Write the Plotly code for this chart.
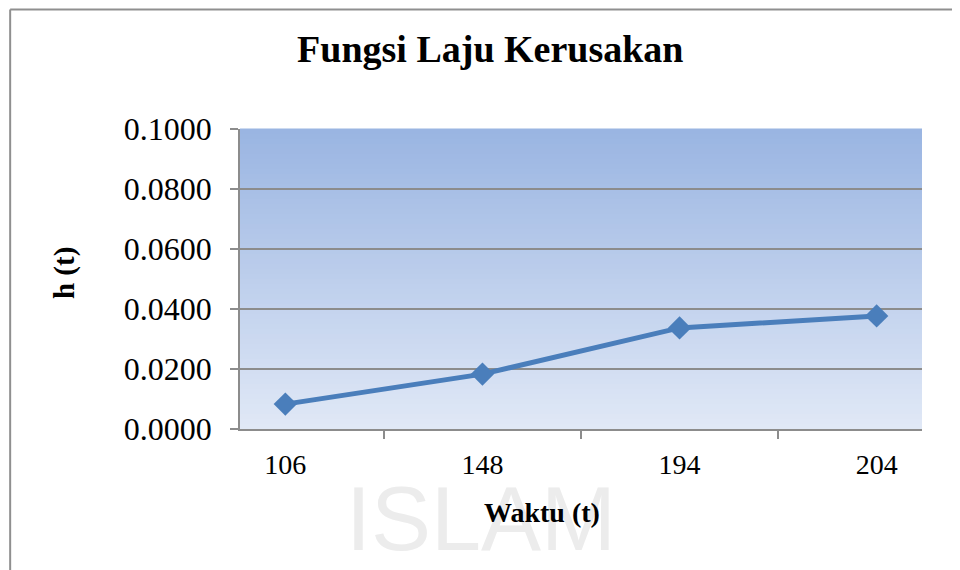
import plotly.graph_objects as go

# data
waktu = ["106", "148", "194", "204"]
h_t = [0.0083, 0.0183, 0.0337, 0.0377]
y_ticks = [0.0, 0.02, 0.04, 0.06, 0.08, 0.10]

SERIF = "Liberation Serif, Times New Roman, serif"
GRID = "#8c8c8c"
LINE = "#4a7ebb"

fig = go.Figure()
fig.add_trace(go.Scatter(
    x=waktu, y=h_t, mode="lines+markers",
    line=dict(color=LINE, width=5),
    marker=dict(symbol="diamond", size=18, color=LINE),
    showlegend=False, hoverinfo="x+y",
))

# gradient plot background (stripes)
top = (154, 181, 226)
bot = (224, 232, 246)
n = 60
shapes = []
for i in range(n):
    t = i / (n - 1)
    c = tuple(round(bot[k] + (top[k] - bot[k]) * t) for k in range(3))
    shapes.append(dict(
        type="rect", xref="paper", yref="paper",
        x0=0, x1=1, y0=i / n, y1=(i + 1) / n + 0.002,
        fillcolor=f"rgb{c}", line_width=0, layer="below",
    ))

# outer chart border: only left and top edges are inside the picture
border = dict(color="#8f8f8f", width=2)
shapes.append(dict(type="line", xref="paper", yref="paper",
                   x0=-0.337, x1=-0.337, y0=-0.7, y1=1.398, line=border, layer="below"))
shapes.append(dict(type="line", xref="paper", yref="paper",
                   x0=-0.337, x1=1.3, y0=1.398, y1=1.398, line=border, layer="below"))

# page has an 8px body margin, so margins are shifted by -8
fig.update_layout(
    width=960, height=570,
    margin=dict(l=232, r=46, t=121, b=149),
    paper_bgcolor="white", plot_bgcolor="rgba(0,0,0,0)",
    font=dict(family=SERIF, color="black"),
    shapes=shapes,
    title=dict(
        text="<b>Fungsi Laju Kerusakan</b>",
        font=dict(family=SERIF, size=38, color="black"),
        xref="paper", x=0.367, xanchor="center",
        yref="container", y=0.928, yanchor="middle",
    ),
    annotations=[
        dict(text="ISLAM", xref="paper", yref="paper", x=0.354, y=-0.3,
             xanchor="center", yanchor="middle", showarrow=False,
             font=dict(family="Liberation Sans, Arial", size=90, color="#ececec")),
        dict(text="<b>Waktu (t)</b>", xref="paper", yref="paper", x=0.443, y=-0.277,
             xanchor="center", yanchor="middle", showarrow=False,
             font=dict(family=SERIF, size=28, color="black")),
        dict(text="<b>h (t)</b>", xref="paper", yref="paper", x=-0.258, y=0.52,
             xanchor="center", yanchor="middle", textangle=-90, showarrow=False,
             font=dict(family=SERIF, size=29, color="black")),
    ],
)

fig.update_xaxes(
    type="category", tickson="boundaries",
    showgrid=False, showline=True, linecolor=GRID, linewidth=1.5,
    ticks="outside", ticklen=8, tickcolor=GRID, tickwidth=1.5,
    tickfont=dict(family=SERIF, size=28), ticklabelstandoff=10,
    zeroline=False,
)
fig.update_yaxes(
    range=[0, 0.1], tickvals=y_ticks, tickformat=".4f",
    showgrid=True, gridcolor=GRID, gridwidth=1.5,
    showline=True, linecolor=GRID, linewidth=1.5,
    ticks="outside", ticklen=8, tickcolor=GRID, tickwidth=1.5,
    tickfont=dict(family=SERIF, size=32), ticklabelstandoff=12,
    zeroline=False,
)

fig.write_html("out.html")
